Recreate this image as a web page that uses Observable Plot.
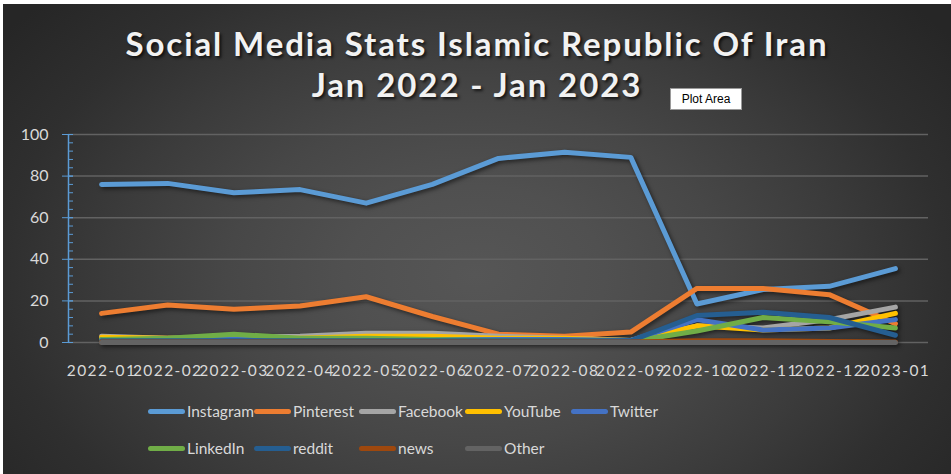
<!DOCTYPE html>
<html>
<head>
<meta charset="utf-8">
<script src="https://cdn.jsdelivr.net/npm/d3@7"></script>
<script src="https://cdn.jsdelivr.net/npm/@observablehq/plot@0.6"></script>
<style>
html, body { margin: 0; padding: 0; background: #ffffff; }
#chart {
  position: absolute; left: 0; top: 0; width: 951px; height: 474px; overflow: hidden;
  background: radial-gradient(ellipse 62% 85% at 50% 58%, #565656 0%, #505050 22%, #474747 42%, #3b3b3b 62%, #2f2f2f 80%, #262626 100%);
  font-family: Lato, "Open Sans", sans-serif;
}
#topstrip { position: absolute; left: 0; top: 0; width: 951px; height: 4px; background: #fff; }
#leftstrip { position: absolute; left: 0; top: 0; width: 3px; height: 474px; background: #fff; }
#title {
  position: absolute; left: 0; top: 23px; width: 954px; text-align: center;
  color: #f2f2f2; font-weight: 700; font-size: 33px; line-height: 41px; letter-spacing: 1.9px;
  text-shadow: 2px 2px 3px rgba(0,0,0,0.7);
}
#plotarea-tip {
  position: absolute; left: 670px; top: 88px; width: 72px; height: 22px; box-sizing: border-box;
  background: #fff; border: 1px solid #9a9a9a; color: #000;
  font-family: "Liberation Sans", Arial, sans-serif; font-size: 12px; line-height: 20px; text-align: center;
}
#plot { position: absolute; left: 0; top: 120px; }
#plot svg g[aria-label="line"] { filter: drop-shadow(2px 2px 2px rgba(0,0,0,0.55)); }
#plot svg g[aria-label="x-axis tick label"] text { letter-spacing: 1.4px; }
.legend-item { position: absolute; display: flex; align-items: center; height: 20px; color: #d9d9d9; font-size: 15.5px; }
.legend-swatch { width: 37px; height: 5px; border-radius: 3px; margin-right: 2px; }
</style>
</head>
<body>
<div id="chart">
  <div id="title">Social Media Stats Islamic Republic Of Iran<br>Jan 2022 - Jan 2023</div>
  <div id="plotarea-tip">Plot Area</div>
  <div id="plot"></div>
  <div id="legend"></div>
</div>
<div id="topstrip"></div>
<div id="leftstrip"></div>
<script>
const months = ["2022-01","2022-02","2022-03","2022-04","2022-05","2022-06","2022-07","2022-08","2022-09","2022-10","2022-11","2022-12","2023-01"];
const seriesNames = ["Instagram","Pinterest","Facebook","YouTube","Twitter","LinkedIn","reddit","news","Other"];
const seriesColors = ["#5B9BD5","#ED7D31","#A5A5A5","#FFC000","#4472C4","#70AD47","#255E91","#9E480E","#636363"];
const instagram = [76, 76.5, 72, 73.5, 67, 76, 88.5, 91.5, 89, 18.5, 25.5, 27, 35.5];
const pinterest = [14, 18, 16, 17.5, 22, 12.5, 4, 3, 5, 26, 26, 23, 9];
const facebook  = [3, 2, 2.5, 3, 4.5, 4.5, 3, 2, 1, 8, 7, 11, 17];
const youtube   = [2.5, 2, 2, 2, 3, 3, 2, 2, 1, 8, 6, 7, 14];
const twitter   = [1.5, 1.5, 1.5, 1.5, 1.5, 1.5, 1.5, 1.5, 1, 11, 6, 7, 11];
const linkedin  = [1.5, 2, 4, 2, 2, 1.5, 1, 1, 0.5, 5.5, 12, 10, 7];
const reddit    = [0.8, 0.8, 0.8, 0.8, 0.8, 0.8, 0.8, 0.8, 0.8, 13, 14.5, 12, 3.5];
const news      = [0.3, 0.3, 0.3, 0.3, 0.3, 0.3, 0.3, 0.3, 0.3, 0.8, 0.8, 0.5, 0.3];
const other     = [0, 0, 0, 0, 0, 0, 0, 0, 0, 0, 0, 0, 0];
const yTicks = [0, 20, 40, 60, 80, 100];
const yMinorStep = 4;

const seriesValues = [instagram, pinterest, facebook, youtube, twitter, linkedin, reddit, news, other];
const rows = [];
seriesNames.forEach((name, s) => {
  seriesValues[s].forEach((v, i) => rows.push({series: name, i, value: v}));
});
const xDomain = [-0.5, months.length - 0.5];
const minorTicks = d3.range(yTicks[0], yTicks[yTicks.length - 1] + 1, yMinorStep);

const chart = Plot.plot({
  width: 951, height: 260,
  marginLeft: 68, marginRight: 23, marginTop: 14, marginBottom: 38,
  style: {background: "transparent", color: "#d9d9d9", fontFamily: "Lato, sans-serif", overflow: "visible"},
  x: {type: "linear", domain: xDomain},
  y: {domain: [0, 100]},
  color: {domain: seriesNames, range: seriesColors},
  marks: [
    Plot.ruleY(yTicks, {stroke: "#626262", strokeWidth: 1.5}),
    Plot.lineY(rows, {x: "i", y: "value", z: "series", stroke: "series", strokeWidth: 5, strokeLinecap: "round", strokeLinejoin: "round"}),
    Plot.ruleX([xDomain[0]], {stroke: "#5B9BD5", strokeWidth: 1.5}),
    Plot.axisY(minorTicks, {tickSize: 5, dx: 5, stroke: "#5B9BD5", tickFormat: () => "", label: null}),
    Plot.axisY(yTicks, {tickSize: 11, dx: 5, tickPadding: 14, stroke: "#5B9BD5", color: "#d9d9d9", fontSize: 16, label: null}),
    Plot.axisX(d3.range(months.length), {tickSize: 0, tickPadding: 22, tickFormat: i => months[i], fontSize: 15.5, color: "#d9d9d9", label: null})
  ]
});
document.getElementById("plot").appendChild(chart);

const legend = document.getElementById("legend");
const legendRows = [[0,1,2,3,4],[5,6,7,8]];
const colLeft = [148, 254, 359, 465, 571];
const rowTop = [401, 438];
legendRows.forEach((r, ri) => r.forEach((s, ci) => {
  const item = document.createElement("div");
  item.className = "legend-item";
  item.style.left = colLeft[ci] + "px";
  item.style.top = rowTop[ri] + "px";
  const sw = document.createElement("div");
  sw.className = "legend-swatch";
  sw.style.background = seriesColors[s];
  const tx = document.createElement("span");
  tx.textContent = seriesNames[s];
  item.appendChild(sw); item.appendChild(tx);
  legend.appendChild(item);
}));
</script>
</body>
</html>
